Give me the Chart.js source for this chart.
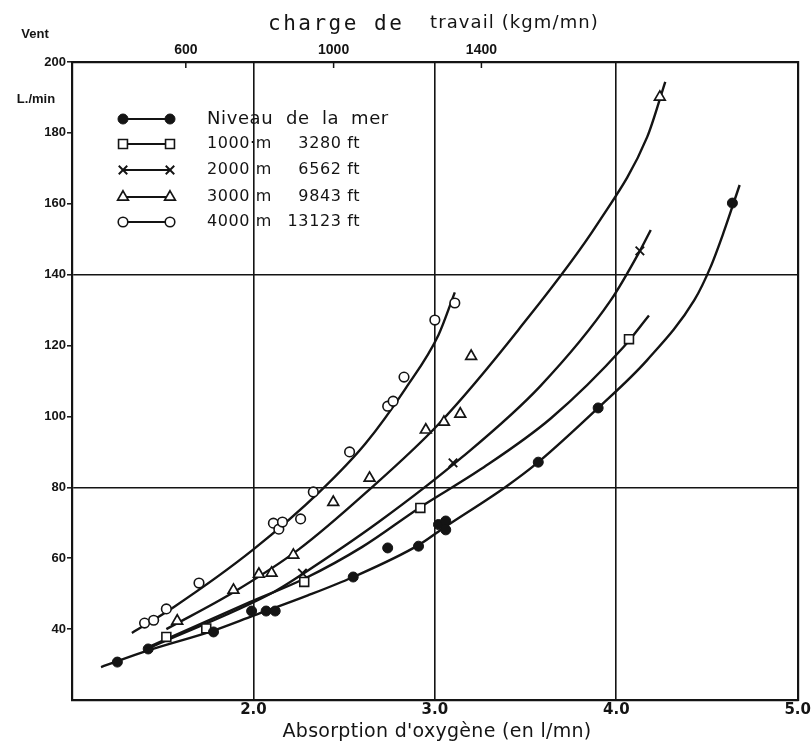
<!DOCTYPE html>
<html><head><meta charset="utf-8">
<script src="https://cdn.jsdelivr.net/npm/chart.js@4.4.1/dist/chart.umd.min.js"></script>
<style>html,body{margin:0;padding:0;background:#fff}#wrap{width:812px;height:746px;position:relative}</style>
</head><body><div id="wrap"><canvas id="c" width="812" height="746"></canvas></div>
<script>
// ---- data ----
const seriesNames = ["Niveau de la mer", "1000·m", "2000 m", "3000 m", "4000 m"];
const seriesFeet = ["", "3280 ft", "6562 ft", "9843 ft", "13123 ft"];
const xTickValues = [2.0, 3.0, 4.0, 5.0];
const yTickStep = 20;
const topTickValues = [600, 1000, 1400];

// measured points
const seaX = [1.25, 1.42, 1.78, 1.99, 2.07, 2.12, 2.55, 2.74, 2.91, 3.02, 3.06, 3.06, 3.57, 3.90, 4.64];
const seaY = [30.7, 34.4, 39.2, 45.1, 45.1, 45.1, 54.7, 62.9, 63.4, 69.5, 70.5, 68.0, 87.1, 102.4, 160.2];
const m1000X = [1.52, 1.74, 2.28, 2.92, 4.07];
const m1000Y = [37.8, 40.2, 53.3, 74.2, 121.8];
const m2000X = [2.27, 3.10, 4.13];
const m2000Y = [55.8, 86.9, 146.7];
const m3000X = [1.58, 1.89, 2.03, 2.10, 2.22, 2.44, 2.64, 2.95, 3.05, 3.14, 3.20, 4.24];
const m3000Y = [42.3, 51.0, 55.5, 55.8, 60.9, 75.8, 82.6, 96.2, 98.4, 100.7, 117.0, 190.1];
const m4000X = [1.40, 1.45, 1.52, 1.70, 2.11, 2.14, 2.16, 2.26, 2.33, 2.53, 2.74, 2.77, 2.83, 3.00, 3.11];
const m4000Y = [41.7, 42.5, 45.7, 53.0, 69.9, 68.2, 70.2, 71.1, 78.7, 90.0, 102.9, 104.3, 111.1, 127.2, 132.0];

// hand-drawn curves
const seaCurveX = [1.16, 1.42, 1.78, 2.00, 2.30, 2.55, 2.91, 3.05, 3.39, 3.57, 3.90, 4.17, 4.43, 4.52, 4.59, 4.68];
const seaCurveY = [29.3, 34.0, 39.6, 43.8, 49.5, 54.7, 63.7, 68.6, 80.1, 87.1, 102.4, 115.9, 132.8, 142.2, 151.7, 165.3];
const c1000X = [1.40, 1.52, 1.98, 2.28, 2.60, 2.92, 3.25, 3.64, 4.04, 4.18];
const c1000Y = [34.4, 37.2, 47.6, 54.2, 63.2, 74.4, 85.0, 99.5, 119.6, 128.5];
const c2000X = [1.44, 2.11, 2.27, 2.69, 3.15, 3.58, 3.97, 4.13, 4.19];
const c2000Y = [35.0, 50.4, 55.5, 70.2, 88.5, 108.5, 132.8, 146.7, 152.6];
const c3000X = [1.52, 1.89, 2.25, 2.62, 3.02, 3.46, 3.90, 4.17, 4.27];
const c3000Y = [40.0, 50.4, 62.5, 78.5, 97.8, 124.4, 154.6, 178.8, 194.4];
const c4000X = [1.33, 1.56, 2.00, 2.37, 2.62, 2.84, 3.02, 3.11];
const c4000Y = [38.9, 46.2, 62.5, 79.0, 92.5, 108.0, 123.0, 135.0];

// ---- chart ----
const INK = '#141414';
const pts = (xs, ys) => xs.map((x, i) => ({x: x, y: ys[i]}));
const curve = (xs, ys) => ({
  data: pts(xs, ys), showLine: true, pointRadius: 0, borderColor: INK, borderWidth: 2.4,
  cubicInterpolationMode: 'monotone', fill: false, order: 2
});
const markers = [
  {pointStyle: 'circle', radius: 5, fill: INK, border: INK, bw: 1},
  {pointStyle: 'rect', radius: 6.3, fill: '#fff', border: INK, bw: 1.6},
  {pointStyle: 'crossRot', radius: 6, fill: INK, border: INK, bw: 1.9},
  {pointStyle: 'triangle', radius: 6.2, fill: '#fff', border: INK, bw: 1.7},
  {pointStyle: 'circle', radius: 4.8, fill: '#fff', border: INK, bw: 1.6}
];
const scat = (xs, ys, k) => ({
  data: pts(xs, ys), showLine: false, pointStyle: markers[k].pointStyle,
  pointRadius: markers[k].radius, pointBackgroundColor: markers[k].fill,
  pointBorderColor: markers[k].border, pointBorderWidth: markers[k].bw, order: 1
});

const TRANSP = 'rgba(0,0,0,0)';
const SANS = "'Liberation Sans', Arial, sans-serif";
const WIDE = "'DejaVu Sans', sans-serif";

const overlay = {
  id: 'overlay',
  beforeDraw(chart) {
    const ctx = chart.ctx;
    ctx.save(); ctx.fillStyle = '#fff'; ctx.fillRect(0, 0, chart.width, chart.height); ctx.restore();
  },
  afterDraw(chart) {
    const ctx = chart.ctx;
    const a = chart.chartArea;
    ctx.save();
    ctx.fillStyle = INK; ctx.strokeStyle = INK;
    // top axis inner tick marks
    const x2 = chart.scales.x2;
    ctx.lineWidth = 1.5;
    topTickValues.forEach(v => {
      const px = x2.getPixelForValue(v);
      ctx.beginPath(); ctx.moveTo(px, a.top); ctx.lineTo(px, a.top + 6); ctx.stroke();
    });
    // corner labels
    ctx.textBaseline = 'middle';
    ctx.textAlign = 'center';
    ctx.font = "bold 13px " + SANS;
    ctx.fillText('Vent', 35, 34);
    ctx.fillText('L./min', 36, 99);
    // top title
    ctx.textAlign = 'left';
    ctx.font = "21px 'DejaVu Sans Mono', monospace";
    try { ctx.letterSpacing = '2.5px'; } catch (e) {}
    ctx.fillText('charge de', 268, 25);
    ctx.font = "18px " + WIDE;
    try { ctx.letterSpacing = '1.1px'; } catch (e) {}
    ctx.fillText('travail (kgm/mn)', 430, 23);
    // bottom title
    ctx.textAlign = 'center';
    ctx.font = "19px " + WIDE;
    try { ctx.letterSpacing = '0.3px'; } catch (e) {}
    ctx.fillText("Absorption d'oxygène (en l/mn)", 437, 732);
    // legend
    const rowsY = [119, 144, 170, 197, 222];
    const lx0 = 123, lx1 = 170;
    rowsY.forEach((ry, k) => {
      ctx.lineWidth = 2;
      ctx.strokeStyle = INK;
      ctx.beginPath(); ctx.moveTo(lx0, ry); ctx.lineTo(lx1, ry); ctx.stroke();
      const m = markers[k];
      ctx.fillStyle = m.fill; ctx.strokeStyle = m.border; ctx.lineWidth = m.bw;
      [lx0, lx1].forEach(px => {
        Chart.helpers.drawPoint(ctx, {pointStyle: m.pointStyle, radius: m.radius, borderWidth: m.bw, rotation: 0}, px, ry);
      });
    });
    ctx.fillStyle = INK;
    try { ctx.letterSpacing = '0.6px'; } catch (e) {}
    ctx.textAlign = 'left';
    ctx.font = "18px " + WIDE;
    ctx.fillText('Niveau', 207, rowsY[0]);
    ctx.fillText('de', 286, rowsY[0]);
    ctx.fillText('la', 322, rowsY[0]);
    ctx.fillText('mer', 351, rowsY[0]);
    ctx.font = "16px " + WIDE;
    for (let k = 1; k < 5; k++) {
      ctx.textAlign = 'left';
      ctx.fillText(seriesNames[k], 207, rowsY[k]);
      ctx.textAlign = 'right';
      ctx.fillText(seriesFeet[k], 360, rowsY[k]);
    }
    ctx.restore();
  }
};

new Chart(document.getElementById('c'), {
  type: 'scatter',
  data: {
    datasets: [
      curve(seaCurveX, seaCurveY), curve(c1000X, c1000Y), curve(c2000X, c2000Y),
      curve(c3000X, c3000Y), curve(c4000X, c4000Y),
      scat(seaX, seaY, 0), scat(m1000X, m1000Y, 1), scat(m2000X, m2000Y, 2),
      scat(m3000X, m3000Y, 3), scat(m4000X, m4000Y, 4)
    ]
  },
  options: {
    responsive: false, animation: false, devicePixelRatio: 1,
    layout: {padding: 0},
    plugins: {legend: {display: false}, tooltip: {enabled: false}},
    scales: {
      x: {
        type: 'linear', position: 'bottom', min: 1, max: 5,
        afterBuildTicks: s => { s.ticks = xTickValues.map(v => ({value: v})); },
        afterFit: s => { s.height = 46; },
        ticks: {callback: v => Number(v).toFixed(1), color: INK, padding: 1, maxRotation: 0, autoSkip: false,
                font: {family: WIDE, size: 15, weight: 'bold'}},
        grid: {color: c => (c.tick && [2, 3, 4].includes(c.tick.value)) ? INK : TRANSP, lineWidth: 1.6, drawTicks: false},
        border: {color: INK, width: 2.2}
      },
      x2: {
        type: 'linear', position: 'top', min: 292, max: 2256,
        afterBuildTicks: s => { s.ticks = topTickValues.map(v => ({value: v})); },
        afterFit: s => { s.height = 62; },
        ticks: {callback: v => String(v), color: INK, padding: 3, maxRotation: 0, autoSkip: false,
                font: {family: SANS, size: 14, weight: 'bold'}},
        grid: {drawOnChartArea: false, drawTicks: false},
        border: {color: INK, width: 2.2}
      },
      y: {
        type: 'linear', position: 'left', min: 20, max: 200,
        afterFit: s => { s.width = 72; },
        ticks: {stepSize: yTickStep, callback: v => (v === 20 ? '' : String(v)), color: INK, padding: 1,
                font: {family: SANS, size: 13, weight: 'bold'}},
        grid: {color: c => (c.tick && [80, 140].includes(c.tick.value)) ? INK : TRANSP,
               tickColor: c => (c.tick && c.tick.value === 20) ? TRANSP : INK,
               lineWidth: 1.6, tickLength: 5, tickWidth: 1.5},
        border: {color: INK, width: 2.2}
      },
      y2: {
        type: 'linear', position: 'right', min: 20, max: 200,
        afterFit: s => { s.width = 9; },
        ticks: {display: false},
        grid: {drawOnChartArea: false, drawTicks: false},
        border: {color: INK, width: 2.2}
      }
    }
  },
  plugins: [overlay]
});
</script></body></html>
